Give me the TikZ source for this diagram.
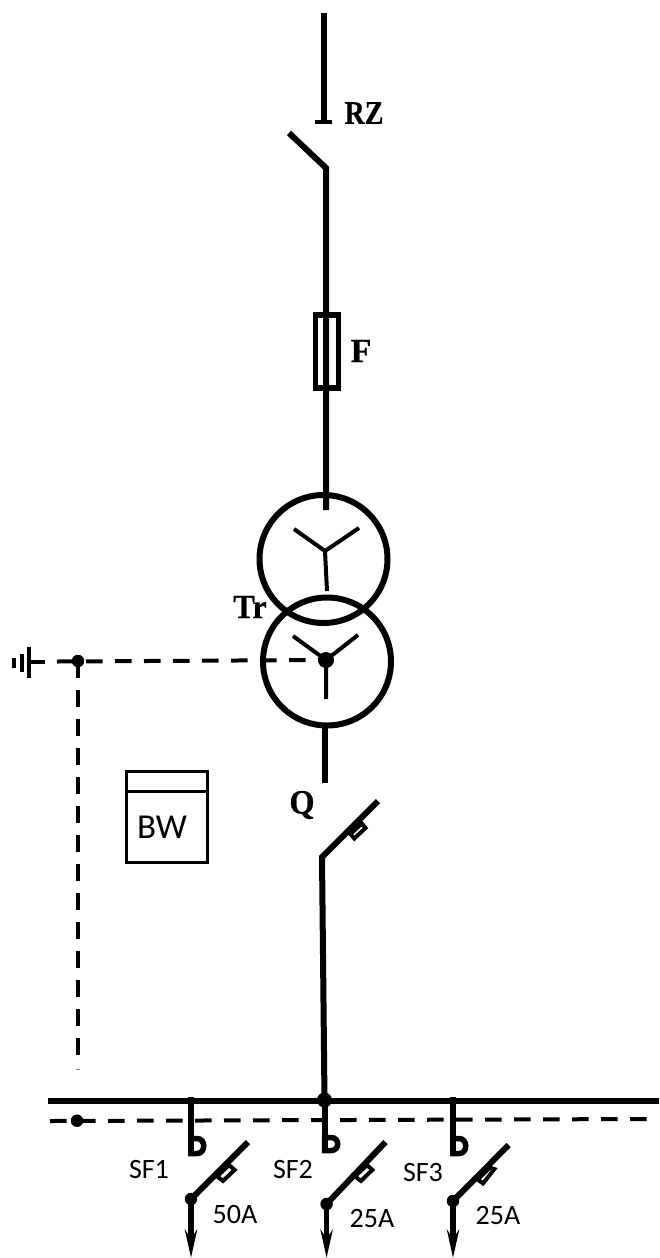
\documentclass[tikz,border=0pt]{standalone}
\usepackage{graphicx}
\usepackage{fontspec}
\setmainfont{Liberation Serif}[BoldFeatures={FakeBold=0.6}]
\newfontfamily\carlito{Carlito}
\usetikzlibrary{arrows.meta}
\tikzset{
  wire/.style={line width=6pt,line cap=butt},
  thinwire/.style={line width=4pt},
  ctl/.style={line width=4pt,dash pattern=on 16.7pt off 12.3pt},
  dotnode/.style={circle,fill=black,inner sep=0pt,minimum size=#1},
  winding/.style={circle,draw=black,line width=6pt,inner sep=0pt,minimum size=128pt},
  boldlabel/.style={font=\bfseries\fontsize{#1}{#1}\selectfont,inner sep=0pt},
  plainlabel/.style={font=\carlito\fontsize{#1}{#1}\selectfont,inner sep=0pt},
  aux/.style={draw=black,fill=white,line width=4pt,line join=miter},
  feeder/.style={line width=5.5pt,-{Stealth[length=28pt,width=12pt,inset=9pt]}},
  trip/.style={draw=black,fill=white,line width=5.5pt,line join=miter},
}
\begin{document}
\begin{tikzpicture}[x=1pt,y=-1pt]
\useasboundingbox (0,0) rectangle (659,1258);
% upper line
\coordinate (top) at (324,13);
\coordinate (rzt) at (324,122);
\coordinate (rzl) at (315,122);
\coordinate (rzr) at (332,122);
\coordinate (rzblade) at (289,133);
\coordinate (rzpivot) at (326,168);
\coordinate (trin) at (326,510);
\draw[wire] (top) -- (rzt);
\draw[line width=4.5pt] (rzl) -- (rzr);
\draw[wire,line join=miter] (rzblade) -- (rzpivot) -- (trin);
\node[draw=black,line width=5.5pt,minimum width=23pt,minimum height=73pt,inner sep=0pt] (fuse) at (327,351.5) {};
% transformer
\node[winding] (t1) at (323.5,559) {};
\node[winding] (t2) at (327,661.5) {};
\draw[wire] (326,490) -- (trin);
\coordinate (s1) at (325,551);
\coordinate (s1a) at (294,529);
\coordinate (s1b) at (359,528);
\coordinate (s1c) at (327,591);
\draw[thinwire] (s1a) -- (s1) -- (s1b) (s1) -- (s1c);
\coordinate (s2a) at (293,636);
\coordinate (s2b) at (358,635);
\coordinate (s2c) at (326,699);
\node[dotnode=16pt] (neutral) at (326,660) {};
\draw[thinwire] (s2a) -- (neutral.center) -- (s2b) (neutral.center) -- (s2c);
% earth
\node[dotnode=12.5pt] (pe) at (78,661) {};
\coordinate (ea) at (29,647);
\coordinate (eb) at (29,678);
\coordinate (ec) at (22,654);
\coordinate (ed) at (22,672);
\coordinate (ee) at (14,658);
\coordinate (ef) at (14,668);
\coordinate (eg) at (29,661.5);
\coordinate (eh) at (45,661.5);
\draw[thinwire] (ea) -- (eb) (ec) -- (ed) (ee) -- (ef) (eg) -- (eh);
\coordinate (pestart) at (57,661.5);
\draw[ctl] (pestart) -- (neutral.center);
\coordinate (pedown) at (78,1056);
\draw[ctl] (pe.center) -- (pedown);
\coordinate (peend1) at (76,1069);
\coordinate (peend2) at (80,1069);
\draw[gray,line width=0.8pt] (peend1) -- (peend2);
% BW box
\node[draw=black,line width=3pt,minimum width=81pt,minimum height=91pt,inner sep=0pt] (bw) at (166.5,816.5) {};
\coordinate (bwl) at (126,791);
\coordinate (bwr) at (207,791);
\draw[line width=3pt] (bwl) -- (bwr);
\node[plainlabel=35] (bwt) at (162,827) {BW};
% main switch
\coordinate (trout1) at (325,728);
\coordinate (trout2) at (325,783);
\draw[line width=6pt] (trout1) -- (trout2);
\coordinate (qt) at (378,801);
\coordinate (qb) at (322,857);
\node[dotnode=15pt] (bus) at (324.5,1100) {};
\draw[wire,line join=miter] (qt) -- (qb) -- (bus.center);
\draw[aux] (365.5,828) -- (354.3,838.5) -- (350.5,834) -- (361.8,823.5) -- cycle;
% busbars
\coordinate (busl) at (48,1100.7);
\coordinate (busr) at (659,1100.7);
\draw[line width=6pt] (busl) -- (busr);
\coordinate (pel) at (50,1121);
\coordinate (per) at (649,1119);
\draw[ctl] (pel) -- (per);
\node[dotnode=12.5pt] (pedot) at (77,1120.7) {};
% SF stubs with trip shapes
\draw[trip] (191,1138.5) -- (197,1138.5) .. controls (206,1138.5) and (206,1153.5) .. (197,1153.5) -- (191,1153.5) -- cycle;
\draw[trip] (324.5,1137.5) -- (331,1137.5) .. controls (340,1137.5) and (340,1150.5) .. (331,1150.5) -- (324.5,1150.5) -- cycle;
\draw[trip] (453,1138.5) -- (459,1138.5) .. controls (468,1138.5) and (468,1153.5) .. (459,1153.5) -- (453,1153.5) -- cycle;
\coordinate (a1) at (191,1097);
\coordinate (a2) at (191,1155.5);
\coordinate (b1) at (324.5,1097);
\coordinate (b2) at (324.5,1152.5);
\coordinate (c1) at (453,1097);
\coordinate (c2) at (453,1155.5);
\draw[wire] (a1) -- (a2);
\draw[wire] (b1) -- (b2);
\draw[wire] (c1) -- (c2);
% breakers
\node[dotnode=12.5pt] (d1) at (191,1199) {};
\node[dotnode=12.5pt] (d2) at (326.6,1204) {};
\node[dotnode=12.5pt] (d3) at (453,1201) {};
\coordinate (t1a) at (248,1142);
\coordinate (t2a) at (385.5,1142);
\coordinate (t3a) at (508.6,1145);
\coordinate (e1) at (191,1258);
\coordinate (e2) at (326.6,1258);
\coordinate (e3) at (453,1258);
\draw[wire] (t1a) -- (d1.center);
\draw[wire] (t2a) -- (d2.center);
\draw[wire] (t3a) -- (d3.center);
\draw[aux] (234.6,1169.9) -- (223,1180.9) -- (217,1176.4) -- (229,1165.1) -- cycle;
\draw[aux] (372.3,1169.9) -- (361,1180.9) -- (355,1176.4) -- (367,1165.1) -- cycle;
\draw[aux] (494.3,1169.1) -- (483,1183.4) -- (477.8,1179.6) -- (489.8,1167.6) -- cycle;
\draw[feeder] (d1.center) -- (e1);
\draw[feeder] (d2.center) -- (e2);
\draw[feeder] (d3.center) -- (e3);
% labels
\node[boldlabel=33] (lrz) at (364,113) {\scalebox{.85}[1]{RZ}};
\node[boldlabel=34] (lf) at (361,351) {F};
\node[boldlabel=34] (ltr) at (250,607) {\scalebox{.95}[1]{Tr}};
\node[boldlabel=34] (lq) at (302,805) {\scalebox{.95}[1]{Q}};
\node[plainlabel=28] (sf1) at (149,1169) {SF1};
\node[plainlabel=28] (sf2) at (293,1169) {SF2};
\node[plainlabel=28] (sf3) at (423,1172) {SF3};
\node[plainlabel=28] (i1) at (235,1214) {50A};
\node[plainlabel=28] (i2) at (372,1218) {25A};
\node[plainlabel=28] (i3) at (498,1215) {25A};
\end{tikzpicture}
\end{document}
